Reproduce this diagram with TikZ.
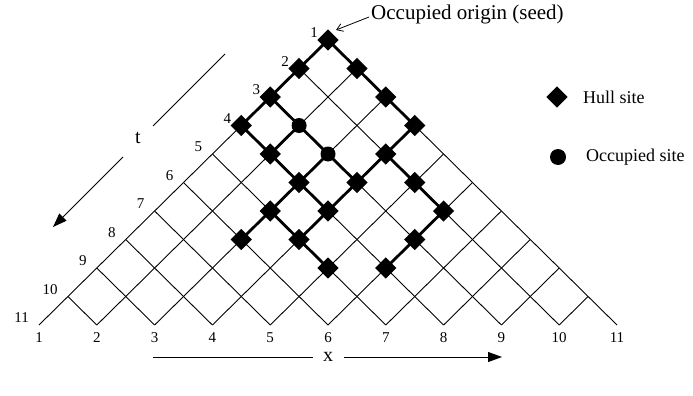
\documentclass[tikz,border=0pt]{standalone}
\usepackage{fontspec}
\setmainfont{Liberation Serif}
\usetikzlibrary{arrows.meta}
\begin{document}
\begin{tikzpicture}[x=1pt,y=-1pt,
  thinbond/.style={line width=0.9pt},
  thickbond/.style={line width=2.8pt},
  hullmark/.style={rectangle,fill=black,rotate=45,minimum size=15pt,inner sep=0pt},
  occmark/.style={circle,fill=black,minimum size=15pt,inner sep=0pt},
  numlbl/.style={font=\fontsize{15}{17}\selectfont,inner sep=0pt},
  txt/.style={font=\fontsize{18}{20}\selectfont,inner sep=0pt}]
\useasboundingbox (0,0) rectangle (693,396);
% lattice sites
\foreach \r in {1,...,11}{
  \pgfmathsetmacro{\jmax}{\r-1}
  \foreach \j in {0,...,\jmax}{
    \coordinate (s-\r-\j) at ({328+28.9*(2*\j-\r+1)},{40+28.5*(\r-1)});
  }
}
% thin lattice bonds
\foreach \r in {1,...,10}{
  \pgfmathtruncatemacro{\rn}{\r+1}
  \pgfmathtruncatemacro{\jmax}{\r-1}
  \foreach \j in {0,...,\jmax}{
    \pgfmathtruncatemacro{\jn}{\j+1}
    \draw[thinbond] (s-\r-\j) -- (s-\rn-\j);
    \draw[thinbond] (s-\r-\j) -- (s-\rn-\jn);
  }
}
% thick (open) bonds
\foreach \a/\b in {1-0/2-0,1-0/2-1,2-0/3-0,2-1/3-2,3-0/4-0,3-0/4-1,3-2/4-3,
  4-0/5-1,4-1/5-1,4-1/5-2,4-3/5-3,5-1/6-2,5-2/6-2,5-2/6-3,5-3/6-3,5-3/6-4,
  6-2/7-2,6-2/7-3,6-3/7-3,6-4/7-5,7-2/8-2,7-2/8-3,7-3/8-3,7-5/8-5,8-3/9-4,8-5/9-5}{
  \draw[thickbond,line cap=round] (s-\a) -- (s-\b);
}
% hull sites
\foreach \p in {1-0,2-0,2-1,3-0,3-2,4-0,4-3,5-1,5-3,6-2,6-3,6-4,7-2,7-3,7-5,8-2,8-3,8-5,9-4,9-5}{
  \node[hullmark] (h-\p) at (s-\p) {};
}
% occupied interior sites
\foreach \p in {4-1,5-2}{
  \node[occmark] (o-\p) at (s-\p) {};
}
% row labels
\foreach \r in {1,...,11}{
  \node[numlbl,anchor=east] (t-\r) at ([xshift=-10pt,yshift=7pt]s-\r-0) {\r};
}
% column labels
\foreach \j in {0,...,10}{
  \pgfmathtruncatemacro{\c}{\j+1}
  \node[numlbl] (c-\c) at ([yshift=-13pt]s-11-\j) {\c};
}
% origin annotation
\node[txt,anchor=west,font=\fontsize{21}{23}\selectfont] (orig) at (371,14) {Occupied origin (seed)};
\coordinate (origtip) at (336,30);
\draw[line width=0.8pt,-{Straight Barb[length=6pt,width=8pt]}] ([xshift=-2pt,yshift=-3pt]orig.west) -- (origtip);
% legend
\node[hullmark] (lh) at (557,97) {};
\node[txt,anchor=west] (lht) at (583,97) {Hull site};
\node[occmark,minimum size=16pt] (lo) at (558,157) {};
\node[txt,anchor=west] (lot) at (586,157) {Occupied site};
% t arrow
\coordinate (ta) at (225,54);
\coordinate (tb) at (153,126);
\coordinate (tc) at (123,157);
\coordinate (td) at (53,227);
\node[txt,font=\fontsize{20}{22}\selectfont] (tl) at (138,138) {t};
\draw[line width=0.9pt] (ta) -- (tb);
\draw[line width=0.9pt,-{Triangle[length=14pt,width=10pt]}] (tc) -- (td);
% x arrow
\coordinate (xa) at (153,357);
\coordinate (xb) at (313,357);
\coordinate (xc) at (344,357);
\coordinate (xd) at (502,357);
\node[txt,font=\fontsize{20}{22}\selectfont,anchor=base] (xl) at (328,361) {x};
\draw[line width=0.9pt] (xa) -- (xb);
\draw[line width=0.9pt,-{Triangle[length=14pt,width=10pt]}] (xc) -- (xd);
\end{tikzpicture}
\end{document}
